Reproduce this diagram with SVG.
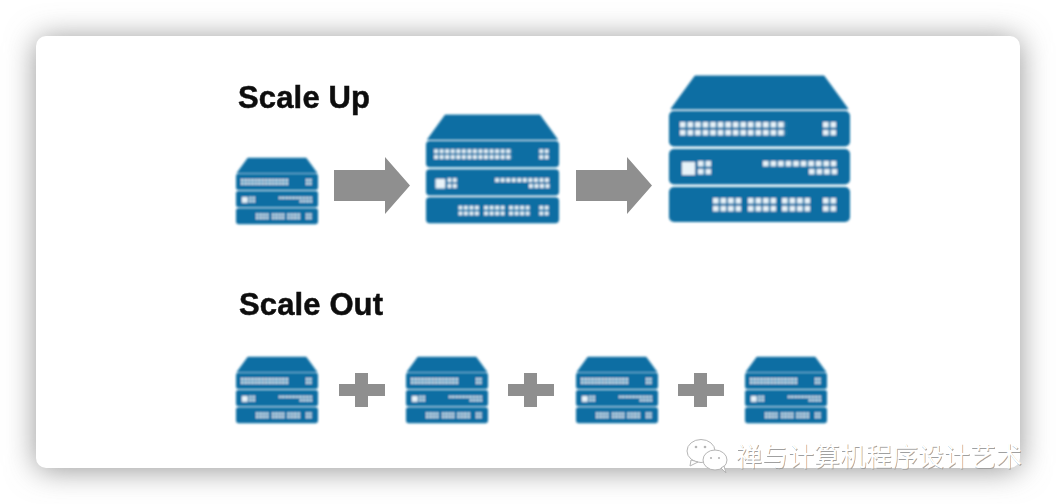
<svg xmlns="http://www.w3.org/2000/svg" xmlns:xlink="http://www.w3.org/1999/xlink" width="1056" height="504" viewBox="0 0 1056 504">
<style>
.body{fill:#0f6ea3}
.dot{fill:#e8f2f8}
.arrow{fill:#8f8f8f}
.title{font-family:"Liberation Sans",Arial,sans-serif;font-weight:700;font-size:31px;fill:#111;stroke:#111;stroke-width:.5px}
.wm{font-family:"Noto Sans CJK SC","Noto Sans",sans-serif;font-size:26px}
</style>
<defs>
<filter id="shadow" x="-10%" y="-20%" width="120%" height="140%"><feGaussianBlur stdDeviation="15"/></filter>
<filter id="soft" x="-5%" y="-5%" width="110%" height="110%"><feGaussianBlur stdDeviation="0.8"/></filter>
<filter id="softer" x="-5%" y="-5%" width="110%" height="110%"><feGaussianBlur stdDeviation="0.6"/></filter>
<filter id="wmblur" x="-5%" y="-20%" width="110%" height="140%"><feGaussianBlur stdDeviation="0.5"/></filter>
<pattern id="p" width="7.55" height="8" patternUnits="userSpaceOnUse"><rect width="5.6" height="5.6" class="dot"/></pattern>
<g id="server">
<path class="body" d="M26 0H155L179 33H2Z" stroke="#0f6ea3" stroke-width="1" stroke-linejoin="round"/>
<rect class="body" x="0" y="35" width="181" height="35.500" rx="5"/>
<rect class="body" x="0" y="73" width="181" height="35.500" rx="5"/>
<rect class="body" x="0" y="111" width="181" height="35" rx="5"/>
<g transform="translate(11 46)"><rect width="105.7" height="13.6" fill="url(#p)"/></g>
<g transform="translate(154 46)"><rect width="13.1" height="13.6" fill="url(#p)"/></g>
<rect class="dot" x="13" y="86" width="13" height="13"/>
<g transform="translate(29 85)"><rect width="13.1" height="13.6" fill="url(#p)"/></g>
<g transform="translate(94 85)"><rect width="73.5" height="5.6" fill="url(#p)"/></g>
<g transform="translate(140 93)"><rect width="28.2" height="5.6" fill="url(#p)"/></g>
<g transform="translate(44 122)"><rect width="28.2" height="13.6" fill="url(#p)"/></g>
<g transform="translate(79 122)"><rect width="28.2" height="13.6" fill="url(#p)"/></g>
<g transform="translate(113 122)"><rect width="28.2" height="13.6" fill="url(#p)"/></g>
<g transform="translate(154 122)"><rect width="13.1" height="13.6" fill="url(#p)"/></g>
</g>
</defs>
<rect width="1056" height="504" fill="#fff"/>
<rect x="36" y="38" width="984" height="432" rx="10" fill="#959595" filter="url(#shadow)"/>
<rect id="card" x="36" y="36" width="984" height="432" rx="10" fill="#fff"/>
<g id="titles" filter="url(#softer)">
<text id="label-up" class="title" x="238" y="108" textLength="132">Scale Up</text>
<text id="label-out" class="title" x="239" y="315" textLength="144">Scale Out</text>
</g>
<g id="server-up-small" filter="url(#soft)"><use xlink:href="#server" href="#server" transform="translate(236 158) scale(.453)"/></g>
<g id="server-up-medium" filter="url(#soft)"><use xlink:href="#server" href="#server" transform="translate(426 115) scale(.735 .742)"/></g>
<g id="server-up-large" filter="url(#soft)"><use xlink:href="#server" href="#server" transform="translate(669 76)"/></g>
<g id="server-out-1" filter="url(#soft)"><use xlink:href="#server" href="#server" transform="translate(236 357) scale(.453)"/></g>
<g id="server-out-2" filter="url(#soft)"><use xlink:href="#server" href="#server" transform="translate(406 357) scale(.453)"/></g>
<g id="server-out-3" filter="url(#soft)"><use xlink:href="#server" href="#server" transform="translate(576 357) scale(.453)"/></g>
<g id="server-out-4" filter="url(#soft)"><use xlink:href="#server" href="#server" transform="translate(745 357) scale(.453)"/></g>
<g id="connectors" filter="url(#softer)">
<path class="arrow" d="M334 170H385V157L410 185.500L385 214V201H334Z"/>
<path class="arrow" d="M576 170H627V157L652 185.500L627 214V201H576Z"/>
<path class="arrow" d="M339 384H355V373H368V384H385V396H368V407H355V396H339Z"/>
<path class="arrow" d="M508 384H524V373H537V384H554V396H537V407H524V396H508Z"/>
<path class="arrow" d="M678 384H694V373H707V384H724V396H707V407H694V396H678Z"/>
</g>
<g id="watermark">
<g filter="url(#wmblur)" fill="#fff" stroke="#b5b5b5" stroke-width="1">
<ellipse cx="701" cy="451" rx="14" ry="11.500"/>
<path d="M691 460L690 466L698 462Z"/>
<ellipse cx="715" cy="460" rx="12" ry="10"/>
<path d="M721 468L726 473L724 466Z"/>
<g fill="#b5b5b5" stroke="none"><circle cx="696" cy="447" r="1.300"/><circle cx="705" cy="447" r="1.300"/><circle cx="711" cy="458" r="1.100"/><circle cx="719" cy="458" r="1.100"/></g>
</g>
<text class="wm" x="736.700" y="466.700" fill="#a0a0a0" filter="url(#wmblur)">禅与计算机程序设计艺术</text>
<text class="wm" x="736" y="466" fill="#fff">禅与计算机程序设计艺术</text>
</g>
</svg>
